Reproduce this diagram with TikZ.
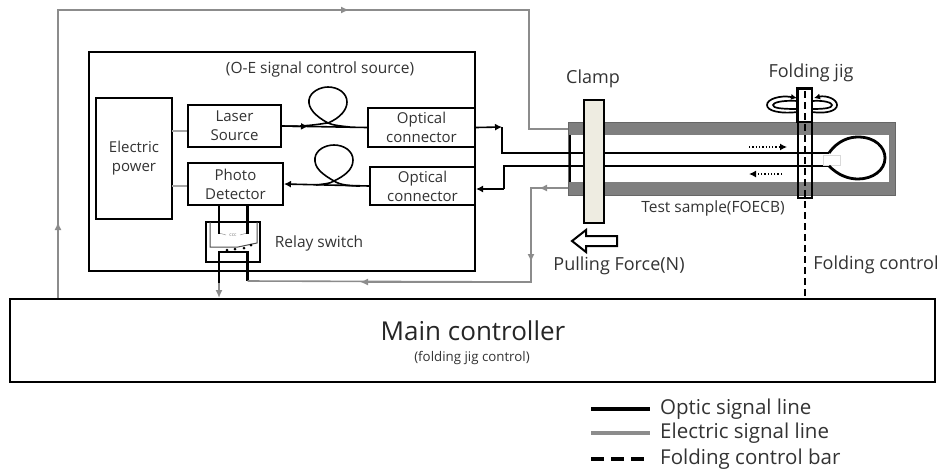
\documentclass[tikz,border=0pt]{standalone}
\usepackage{fontspec}
\setmainfont{Open Sans}
\usetikzlibrary{arrows.meta}
\definecolor{clampfill}{HTML}{EEECE1}
\definecolor{samplegray}{HTML}{7F7F7F}
\definecolor{wiregray}{HTML}{8C8C8C}
\tikzset{
  box/.style={draw=black, line width=2pt, fill=white, align=center, inner sep=0pt, text=black!80, font=\fontsize{15}{19}\selectfont},
  lbl/.style={inner sep=0pt, text=black!80, font=\fontsize{15.5}{18}\selectfont},
  biglbl/.style={inner sep=0pt, text=black!80, font=\fontsize{18}{21}\selectfont},
  fiber/.style={line width=1.6pt, black},
  optic/.style={line width=2.8pt, black},
  wire/.style={line width=1.6pt, wiregray},
  ctrl/.style={line width=2.8pt, black, dash pattern=on 7pt off 4pt},
  ring/.style={line width=1.7pt, black},
  blacktip/.style={-{Latex[length=7pt,width=7pt]}},
  graytip/.style={-{Latex[length=8pt,width=7pt,wiregray]}}
}
\begin{document}
\begin{tikzpicture}[x=1pt, y=-1pt]
      \useasboundingbox (0,0) rectangle (941,472);

      % main controller and source frame
      \node[box, minimum width=925pt, minimum height=83pt] (main) at (472.5,340.5) {};
      \node[inner sep=0pt, text=black!85, font=\fontsize{26}{30}\selectfont] (maintext) at (473,331) {Main controller};
      \node[lbl, font=\fontsize{13.3}{16}\selectfont] (mainsub) at (472,358) {(folding jig control)};

      \node[draw=black, line width=2pt, minimum width=386pt, minimum height=219pt, inner sep=0pt] (source) at (282,161.5) {};
      \node[lbl] (sourcetext) at (320,69) {(O-E signal control source)};

      % test sample
      \node[fill=samplegray, draw=black!60, minimum width=327pt, minimum height=73pt, inner sep=0pt] (sample) at (731.5,158.5) {};
      \node[fill=white, minimum width=319pt, minimum height=47pt, inner sep=0pt] (slot) at (729,158.5) {};
      \draw[line width=1.3pt] (570,135) -- (570,182);

      \coordinate (jointa) at (829,153);
      \coordinate (jointb) at (829,166);
      \coordinate (fiberin) at (530,153);
      \coordinate (fiberout) at (530,166);
      \draw[optic] (fiberin) -- (jointa);
      \draw[optic] (fiberout) -- (jointb);
      \node[draw=black!15, fill=white, minimum width=17pt, minimum height=10pt, inner sep=0pt] (patch) at (832,160) {};
      \draw[optic] (jointa) .. controls (838,140) and (850,137) .. (858,137)
        .. controls (875,137) and (885,147) .. (885,158)
        .. controls (885,170) and (873,179) .. (858,179)
        .. controls (848,179) and (838,175) .. (jointb);

      \node[draw=black, line width=2pt, fill=clampfill, minimum width=20pt, minimum height=123pt, inner sep=0pt] (clamp) at (594,161.5) {};
      \node[biglbl] (clamptext) at (593,79) {Clamp};
      \node[draw=black, line width=1.6pt, minimum width=14pt, minimum height=109pt, inner sep=0pt] (jig) at (805,143.5) {};
      \fill[white] (798.7,90) rectangle (811.3,122);
      \draw[line width=1.6pt] (jig.north west) rectangle (811.9,122);
      \node[biglbl] (jigtext) at (811,73) {Folding jig};
      \node[lbl] (sampletext) at (713,208) {Test sample(FOECB)};
      \node[biglbl] (forcetext) at (619,266) {Pulling Force(N)};
      \node[biglbl] (foldtext) at (876,265) {Folding control};

      % rotation arrows round the jig
      \draw[ring, -{Latex[length=6pt,width=6pt]}] (798,112) .. controls (780,114) and (767,111) .. (767,105) .. controls (767,99) and (780,95) .. (797,98);
      \draw[ring] (798,101) .. controls (780,100) and (773,103) .. (773,105) .. controls (773,108) and (780,109) .. (798,109);
      \draw[ring, -{Latex[length=6pt,width=6pt]}] (812,112) .. controls (826,114) and (837,111) .. (837,105) .. controls (837,99) and (826,95) .. (814,98);
      \draw[ring] (812,101) .. controls (825,100) and (832,103) .. (832,105) .. controls (832,108) and (825,109) .. (812,109);

      % folding control bar
      \coordinate (jigtop) at (805,91);
      \draw[ctrl] (jigtop) -- (main.north -| jigtop);

      % small arrows beside the fibres
      \coordinate (dota) at (749,147);
      \coordinate (dotb) at (787,147);
      \coordinate (dotc) at (782,174);
      \coordinate (dotd) at (749,174);
      \draw[line width=1.3pt, dotted, blacktip] (dota) -- (dotb);
      \draw[line width=1.3pt, dotted, blacktip] (dotc) -- (dotd);

      % pulling force
      \draw[line width=2pt, fill=white] (572,241) -- (586,230) -- (586,236) -- (617,236) -- (617,246) -- (586,246) -- (586,252) -- cycle;

      % boxes of the source
      \node[box, minimum width=76pt, minimum height=121pt] (power) at (134,158.5) {Electric\\power};
      \node[box, minimum width=93pt, minimum height=42pt] (laser) at (234.5,126) {Laser\\Source};
      \node[box, minimum width=95pt, minimum height=42pt] (detector) at (235.5,184) {Photo\\Detector};
      \node[box, minimum width=107pt, minimum height=39pt] (connup) at (421.5,127.5) {Optical\\connector};
      \node[box, minimum width=105pt, minimum height=38pt] (conndown) at (422.5,186) {Optical\\connector};

      \coordinate (powerup) at (172,131);
      \coordinate (powerdown) at (172,186);
      \draw[line width=1.3pt, black!35] (powerup) -- (powerup -| laser.west);
      \draw[line width=1.3pt, black!35] (powerdown) -- (powerdown -| detector.west);

      % fibre loops
      \coordinate (loopa) at (328,123);
      \coordinate (loopb) at (334,181);
      \draw[fiber] (laser.east) -- (connup.west);
      \draw[fiber, blacktip] (laser.east) -- (308,126.5);
      \draw[fiber] (300,126) .. controls (318,125) and (325,123) .. (loopa)
        .. controls (315,116) and (308,108) .. (309,100)
        .. controls (310,92) and (320,87) .. (328,87)
        .. controls (338,87) and (347,93) .. (347,102)
        .. controls (347,110) and (340,118) .. (loopa)
        .. controls (332,125) and (340,126) .. (350,127);
      \draw[fiber, blacktip] (conndown.west) -- (detector.east);
      \draw[fiber] (316,185) .. controls (322,184) and (330,184) .. (loopb)
        .. controls (322,174) and (314,168) .. (315,158)
        .. controls (316,150) and (325,145) .. (334,145)
        .. controls (344,145) and (353,151) .. (353,160)
        .. controls (353,170) and (344,176) .. (loopb)
        .. controls (340,185) and (350,186) .. (360,186);

      % fibres to the sample
      \coordinate (bendup) at (502,127);
      \coordinate (benddown) at (504,189);
      \draw[fiber] (bendup) -- (bendup |- fiberin) -- (fiberin);
      \draw[fiber, blacktip] (connup.east) -- (bendup);
      \draw[fiber] (fiberout) -- (benddown |- fiberout) -- (benddown);
      \draw[fiber, blacktip] (benddown) -- (conndown.east |- benddown);

      % relay switch
      \node[draw=black, line width=2pt, minimum width=54pt, minimum height=40pt, inner sep=0pt] (relay) at (233,242) {};
      \node[lbl] (relaytext) at (319,243) {Relay switch};
      \draw[line width=1pt, black!70] (210,222) -- (210,247) -- (238,247) -- (257,243) -- (257,222);
      \node[inner sep=0pt, text=black!50, font=\fontsize{5}{6}\selectfont] (coil) at (233,235) {ccc};
      \draw[line width=0.5pt, black!40] (219,233) -- (226,235) (240,235) -- (247,233);
      \draw[optic] (219,205) -- (219,234);
      \draw[optic] (247.5,205) -- (247.5,234);
      \foreach \x\y in {227/250,235/249,244/248,251/245} {
        \fill (\x,\y) circle (1.5pt);
      }
      \coordinate (relayleft) at (219,298);
      \coordinate (relayright) at (247.5,281);
      \draw[optic] (219,283) -- (219,252) -- (249,252);
      \draw[optic] (247.5,252) -- (relayright);
      \draw[wire, graytip] (219,283) -- (relayleft);

      % electric lines
      \coordinate (topleft) at (58,10);
      \coordinate (topright) at (529,10);
      \coordinate (sampleup) at (568,129);
      \coordinate (samplelow) at (568,188);
      \coordinate (lowbend) at (531,188);
      \coordinate (lowdown) at (531,282);
      \draw[wire] (main.north -| topleft) -- (topleft) -- (topright) -- (topright |- sampleup) -- (sampleup);
      \draw[wire, graytip] (main.north -| topleft) -- (58,222);
      \draw[wire, graytip] (topleft) -- (349,10);
      \draw[wire] (samplelow) -- (lowbend) -- (lowdown) -- (relayright);
      \draw[wire, graytip] (samplelow) -- (539,188);
      \draw[wire, graytip] (lowbend) -- (531,262);
      \draw[wire, graytip] (lowdown) -- (360,282);

      % legend
      \foreach \n\y\t in {optic/409/Optic signal line, wire/433/Electric signal line, ctrl/459/Folding control bar} {
        \node[lbl, anchor=west, font=\fontsize{20.5}{24}\selectfont] (\n text) at (660,\y) {\t};
        \coordinate (\n start) at (591,\y);
        \coordinate (\n end) at (650,\y);
      }
      \draw[line width=3.5pt] (opticstart) -- (opticend);
      \draw[line width=3.5pt, wiregray] (wirestart) -- (wireend);
      \draw[line width=3.5pt, dash pattern=on 13pt off 7pt] (ctrlstart) -- (ctrlend);
    \end{tikzpicture}
\end{document}
